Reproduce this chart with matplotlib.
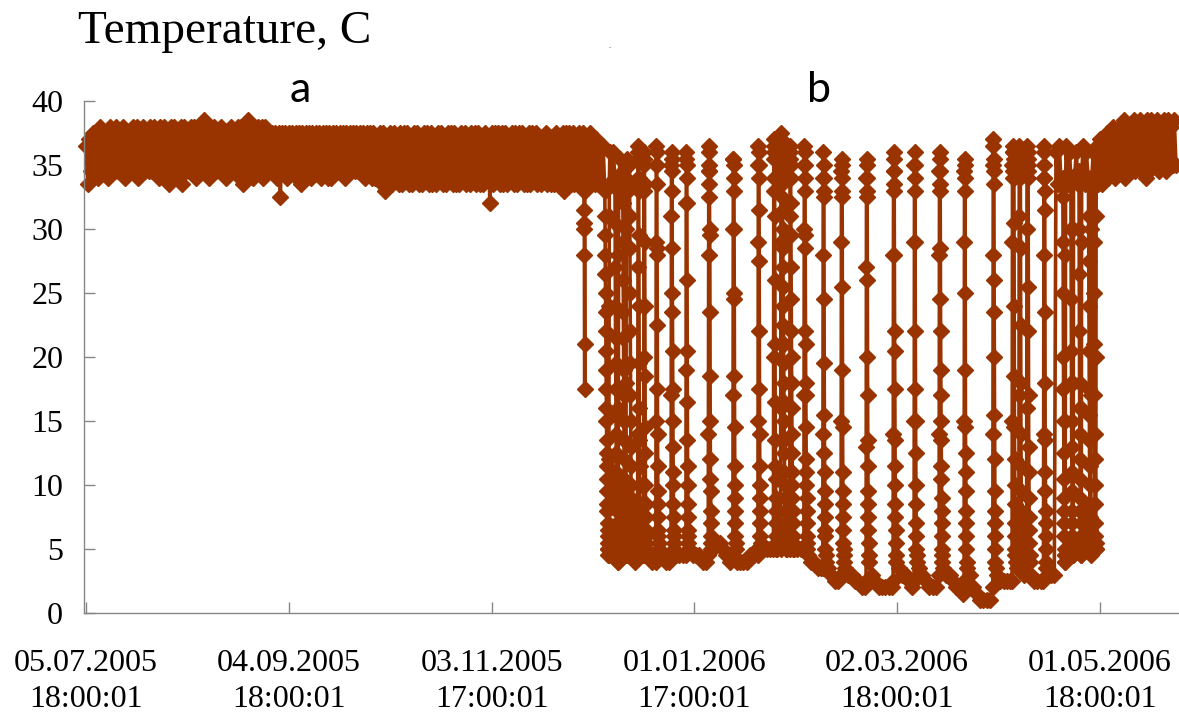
import matplotlib.pyplot as plt
import numpy as np

plt.rcParams['font.family'] = ['Liberation Serif', 'DejaVu Serif']

# day 0 = 05.07.2005 18:00:01, one high and one low reading per day
summer_start = 0
summer_hi = [
    36.5, 37, 37.5, 37.5, 38, 37.5, 37.5, 38, 37.5, 38,
    37.5, 38, 37.5, 37.5, 38, 38, 37.5, 38, 37.5, 38,
    38, 37.5, 38, 38, 37.5, 38, 38, 37.5, 38, 38,
    37.5, 38, 38, 37.5, 38, 38.5, 38, 37.5, 38, 37.5,
    38, 37.5, 37.5, 38, 37.5, 38, 38, 37.5, 38.5, 38,
    37.5, 38, 38, 38, 37.5, 37.5, 37.5, 37.5, 37.5, 37.5,
    37.5, 37.5, 37.5, 37.5, 37.5, 37.5, 37.5, 37.5, 37.5, 37.5,
    37.5, 37.5, 37.5, 37.5, 37.5, 37.5, 37.5, 37.5, 37.5, 37.5,
    37.5, 37.5, 37.5, 37.5, 37.5, 37.5, 37, 37.5, 37.5, 37,
    37.5, 37.5, 37, 37.5, 37.5, 37.5, 37, 37.5, 37.5, 37,
    37.5, 37.5, 37.5, 37, 37.5, 37.5, 37, 37.5, 37.5, 37.5,
    37, 37.5, 37.5, 37, 37.5, 37.5, 37.5, 37, 37.5, 37,
    37.5, 37.5, 37.5, 37.5, 37.5, 37, 37.5, 37.5, 37.5, 37.5,
    37, 37.5, 37.5, 37.5, 37, 37, 37.5, 37, 37, 37.5,
    37, 37.5, 37.5, 37.5, 37.5, 37, 37.5, 37.5, 37, 37.5,
    37, 37, 36.5, 36.5, 36.5, 36, 36, 36, 35.5, 35.5, 35.5,
]
summer_lo = [
    33.5, 34.5, 34.5, 34, 34.5, 34.5, 34, 34.5, 34.5, 34.5,
    34.5, 34, 34.5, 34.5, 34.5, 34, 34.5, 34.5, 34.5, 34.5,
    34.5, 34, 34.5, 34.5, 33.5, 34.5, 34, 34.5, 33.5, 34.5,
    34.5, 34.5, 34, 34.5, 34.5, 34.5, 34, 34.5, 34.5, 34.5,
    34.5, 34, 34.5, 34.5, 34.5, 34, 33.5, 34.5, 34.5, 34,
    34.5, 34.5, 34, 34.5, 34.5, 34.5, 34, 32.5, 34.5, 34,
    34.5, 34.5, 34, 33.5, 34.5, 34.5, 34, 34.5, 34.5, 34,
    34.5, 34, 34, 34.5, 34.5, 34.5, 34, 34.5, 34.5, 34.5,
    34.5, 34.5, 34, 34.5, 34, 34, 34, 33.5, 33, 33.5,
    33.5, 34, 33.5, 33.5, 34, 33.5, 33.5, 34, 33.5, 33.5,
    34, 33.5, 33.5, 33.5, 34, 33.5, 33.5, 34, 33.5, 33.5,
    33.5, 34, 33.5, 33.5, 34, 33.5, 33.5, 33.5, 34, 32,
    33.5, 34, 33.5, 33.5, 33.5, 34, 33.5, 33.5, 34, 33.5,
    33.5, 33.5, 34, 33.5, 33.5, 34, 33.5, 33.5, 33.5, 34,
    33.5, 33, 34, 33.5, 33.5, 34, 33.5, 33.5, 33.5, 33.5,
    33.5, 33.5, 33.5, 33.5, 33.5, 33.5, 33.5, 33, 33, 33, 33,
]

# hibernation: one reading per day (midday), days 161..286
winter_start = 161
winter_floor = [
    4.5, 4, 4, 4.5, 4, 4.5, 4, 4, 4.5, 4.5,
    4, 4, 4, 4.5, 4.5, 4.5, 4.5, 5, 4.5, 4.5,
    4.5, 4, 4, 4, 5, 5.5, 5.5, 5, 4.5, 4,
    4, 4, 4, 4, 4, 4.5, 4.5, 5, 5, 5,
    5, 5, 5, 5, 5, 5, 5, 5, 5, 5,
    5, 4.5, 4.5, 4, 4, 3.5, 3.5, 3, 3.5, 3,
    2.5, 2.5, 2.5, 3.5, 3, 3, 2.5, 2.5, 2, 2,
    2, 3, 2.5, 2, 2, 2, 2, 2, 2.5, 3.5,
    3, 3, 2.5, 2, 2, 3.5, 3, 2.5, 2, 2,
    2, 2, 3.5, 3, 3, 2.5, 2, 2, 1.5, 1.5,
    3, 2, 1.5, 1, 1, 1, 1, 1.5, 3, 2.5,
    2.5, 2.5, 2.5, 3, 3.5, 3.5, 3, 3, 3, 2.5,
    2.5, 2.5, 2.5, 3, 3, 3,
]

# spring: one high and one low reading per day, days 287..322
spring_start = 287
spring_hi = [
    36, 36.5, 36, 36.5, 36, 36.5, 36, 36, 36.5, 36,
    36.5, 36, 36.5, 37, 37, 37.5, 37.5, 38, 37.5, 38,
    38.5, 38, 38, 38.5, 38, 38.5, 38, 38.5, 38.5, 38,
    38.5, 38, 38.5, 38.5, 38, 38.5,
]
spring_lo = [
    33.5, 33.5, 34, 33.5, 33.5, 34, 33.5, 33.5, 33.5, 34,
    33.5, 33.5, 33.5, 33.5, 34, 34, 34.5, 34, 34.5, 34.5,
    34, 34.5, 35, 34.5, 35, 34.5, 34, 34.5, 35, 35,
    34.5, 35, 34.5, 35, 35, 35,
]

# cooling / arousal episodes, hourly readings from the start day
event_start = [
    147.3, 153.5, 156.5, 158.8, 160.8,
    163.2, 165.0, 168.6, 173.1, 177.5, 184.1, 191.4, 198.8,
    203.4, 205.5, 208.2, 212.4, 218.0, 223.4, 230.8, 238.8,
    245.0, 252.4, 259.8, 268.3, 274.0, 276.0, 278.3, 283.3,
    289.0, 291.4, 293.8, 296.6, 298.2,
]
event_temps = [
    [33, 31.5, 30.5, 30, 28, 21, 17.5, 33, 34.5],
    [33, 31, 29.5, 28, 26.5, 25, 23.5, 22, 20.5, 19, 17.5, 16, 15, 13.5, 12.5, 11.5,
     10.5, 9.5, 8.5, 8, 7, 6.5, 6, 5.5, 5, 5, 4.5, 4.5, 5, 12, 24, 31, 33.5],
    [34, 30.5, 27, 24, 21.5, 19.5, 17.5, 15.5, 14, 12.5, 11, 10, 9, 8, 7, 6.5, 6,
     5.5, 5, 4.5, 4.5, 4, 4, 4.5, 16, 28, 33],
    [34.5, 32, 29, 26, 23.5, 21.5, 19, 17, 15, 13.5, 12, 10.5, 9.5, 8.5, 7.5, 7, 6.5,
     6, 5.5, 5, 5, 4.5, 4.5, 4.5, 18, 30, 34],
    [35, 33.5, 31, 28.5, 25, 22, 19.5, 17, 15, 13, 11.5, 10, 9, 8, 7, 6.5, 6, 5.5, 5, 5, 4.5],
    [5, 14, 27, 34, 36, 36.5, 35.5, 34, 33, 29.5, 24, 19.5, 16, 13.5, 11.5, 10, 8.5, 7.5, 6.5, 6, 5.5, 5],
    [4.5, 20, 33, 35.5, 36, 35, 33.5, 29, 24, 18.5, 14.5, 12.5, 10, 8.5, 7.5, 6.5, 6, 5.5, 5],
    [4.5, 15, 29, 35, 36.5, 36, 35, 33.5, 28.5, 28, 22.5, 17.5, 14, 11.5, 9.5, 8.5, 7.5, 6.5, 6, 5.5, 5],
    [4.5, 17, 31, 35, 36, 35.5, 34.5, 33, 28.5, 25, 23.5, 20.5, 17.5, 15, 13, 11, 10, 8.5, 7.5, 6.5, 6, 5.5, 5],
    [4.5, 19, 32, 35.5, 36, 35, 34, 32, 26, 20.5, 16.5, 13.5, 11.5, 10, 8.5, 7.5, 6.5, 6, 5.5, 5],
    [4.5, 14, 28, 34.5, 36.5, 36, 35, 34.5, 33.5, 32.5, 30, 29.5, 23.5, 18.5, 15, 12, 10.5, 9.5, 8, 7, 6, 5.5, 5],
    [4.5, 17, 30, 35.5, 35.5, 35, 34, 33, 30, 25, 24.5, 18.5, 14.5, 11.5, 10, 9, 8, 7, 6, 5.5, 5],
    [4.5, 15, 29, 35, 36.5, 36, 35, 34, 31.5, 27.5, 22, 17.5, 14, 11.5, 10, 9, 8, 7, 6, 5.5, 5],
    [5, 20, 33, 36, 37, 36.5, 35.5, 34, 33, 31, 26, 21, 16.5, 13.5, 11.5, 10.5, 9, 8, 7, 6, 5.5, 5],
    [5, 16, 29, 35, 36.5, 37.5, 37, 36.5, 36, 35.5, 35, 34.5, 33.5, 32.5, 31.5, 30, 28.5, 27, 25.5,
     24, 22.5, 21, 19.5, 18, 16.5, 15, 13.5, 12.5, 11, 10, 9, 8, 7, 6.5, 6, 5.5, 5],
    [5, 18, 31, 35.5, 36.5, 36, 35, 34, 32, 29.5, 27, 24.5, 22, 20, 18, 16, 14, 12.5, 11, 10, 9, 8, 7, 6, 5.5, 5],
    [5, 17, 30, 35, 36.5, 36, 35, 34, 33, 29.5, 28.5, 22, 21, 18, 17, 14.5, 12, 11, 10, 9, 8, 7, 6, 5.5, 5],
    [3.5, 14, 28, 34, 36, 35, 34, 33, 32.5, 24.5, 19.5, 15.5, 12.5, 11, 9.5, 8.5, 7.5, 6.5, 6, 5, 4.5, 4],
    [3, 15, 29, 34.5, 35.5, 35, 34, 33, 32.5, 25.5, 19, 14.5, 11, 9.5, 8.5, 7.5, 6.5, 5.5, 5, 4.5, 4],
    [2.5, 13, 27, 34, 35.5, 35, 34, 33, 32.5, 26, 20, 17, 13.5, 11.5, 9.5, 8.5, 7.5, 6.5, 5.5, 4.5, 4],
    [2.5, 14, 28, 34.5, 36, 35.5, 34.5, 33.5, 33, 28, 22, 20.5, 17.5, 13.5, 11.5, 10, 8.5, 7.5, 6.5, 5.5, 4.5, 4],
    [2.5, 15, 29, 35, 36, 35, 34, 33, 29, 22, 17.5, 15, 12.5, 10, 8.5, 7, 6, 5, 4.5, 4],
    [3, 14, 28, 34.5, 36, 35.5, 34.5, 33.5, 33, 28.5, 24.5, 22, 19, 17, 15, 13.5, 11.5, 10.5, 9, 8, 7, 6, 5, 4.5, 4],
    [2.5, 15, 29, 34.5, 35.5, 35, 34, 33, 25, 19, 14.5, 12.5, 11, 9.5, 8, 7, 6, 5, 4, 3.5],
    [2, 14, 28, 35, 37, 36.5, 35.5, 34.5, 33.5, 26, 23.5, 20, 15.5, 12, 9.5, 8, 7, 6, 5, 4, 3.5],
    [2.5, 15, 29, 35, 36.5, 36, 35, 34.5, 34, 35, 36, 35.5, 34.5, 34, 30.5, 24, 18.5, 14.5, 12, 10, 8.5, 7, 6, 5, 4.5, 4],
    [4, 17, 31, 35.5, 36.5, 36, 35.5, 34.5, 35, 36, 35, 34, 28.5, 22.5, 18, 14, 11.5, 9.5, 8, 7, 6, 5, 4.5],
    [4, 16, 30, 35, 36.5, 36, 35, 34.5, 35.5, 36, 35, 34, 25.5, 22, 17, 13, 11, 9, 7.5, 6.5, 5.5, 4.5, 4],
    [2.5, 14, 28, 34, 36.5, 36, 35, 34, 33, 31.5, 23.5, 18, 13.5, 11, 9.5, 8, 7, 6, 5, 4, 3.5],
    [34, 32.5, 29, 25, 20, 17.5, 15, 12.5, 10.5, 9, 8, 7, 6, 5, 4.5, 4, 4, 4.5, 15, 28, 33.5],
    [34, 30, 24.5, 20.5, 18, 15, 13, 11, 9.5, 8, 7, 6, 5.5, 5, 4.5, 4.5, 5, 18, 30, 34],
    [34.5, 30, 26.5, 22, 18, 16, 14, 12, 10.5, 9, 8, 7, 6, 5, 4.5, 4.5, 5, 16, 29, 34],
    [34, 31, 27.5, 24, 20.5, 17.5, 15.5, 13.5, 11.5, 10, 8.5, 7.5, 6.5, 5.5, 5, 5, 4.5, 5, 17, 30, 34],
    [33.5, 29, 25, 21, 17, 14, 12, 10, 8.5, 7, 6, 5.5, 5, 5, 5.5, 20, 31, 34],
]

tick_days = [0, 60, 120, 180, 240, 300]
tick_labels = ['05.07.2005\n18:00:01', '04.09.2005\n18:00:01', '03.11.2005\n17:00:01',
               '01.01.2006\n17:00:01', '02.03.2006\n18:00:01', '01.05.2006\n18:00:01']


def buildSeries():
    t, v = [], []
    for i, (hi, lo) in enumerate(zip(summer_hi, summer_lo)):
        t += [summer_start + i, summer_start + i + 0.5]
        v += [hi, lo]
    for i, f in enumerate(winter_floor):
        t.append(winter_start + i + 0.5)
        v.append(f)
    for i, (hi, lo) in enumerate(zip(spring_hi, spring_lo)):
        t += [spring_start + i, spring_start + i + 0.5]
        v += [hi, lo]
    t = np.array(t, float)
    v = np.array(v, float)

    keep = np.ones(len(t), bool)
    et, ev = [], []
    for s, temps in zip(event_start, event_temps):
        times = s + np.arange(len(temps)) / 24
        keep &= ~((t >= times[0]) & (t <= times[-1]))
        et.append(times)
        ev.append(np.array(temps, float))
    t = np.concatenate([t[keep]] + et)
    v = np.concatenate([v[keep]] + ev)
    order = np.argsort(t, kind='stable')
    return t[order], v[order]


def plotFig(t, v):
    W, H = 1179, 716
    fig = plt.figure(figsize=(W / 100, H / 100), dpi=100)
    ax = fig.add_axes([84 / W, 1 - 613 / H, 1094 / W, 512 / H])

    col = '#993300'
    ax.plot(t, v, color=col, lw=2.6, marker='D', ms=8, mew=1,
            mfc=col, mec=col, clip_on=False)

    ax.set_xlim(-0.6, 323.1)
    ax.set_ylim(0, 40)
    ax.set_yticks(range(0, 41, 5))
    ax.set_xticks(tick_days)
    ax.set_xticklabels(tick_labels, linespacing=1.3)

    for s in ['top', 'right']:
        ax.spines[s].set_visible(False)
    for s in ['left', 'bottom']:
        ax.spines[s].set_color('#868686')
        ax.spines[s].set_linewidth(1.0)
    ax.tick_params(axis='both', direction='in', length=8, width=1,
                   color='#868686', labelsize=23, labelcolor='black')
    ax.tick_params(axis='y', pad=15)
    ax.tick_params(axis='x', pad=26)

    fig.text(78 / W, 1 - 43 / H, 'Temperature, C', fontsize=34,
             ha='left', va='baseline')
    fig.text(300 / W, 1 - 102 / H, 'a', fontsize=31, family=['Lato', 'DejaVu Sans'],
             ha='center', va='baseline')
    fig.text(819 / W, 1 - 102 / H, 'b', fontsize=31, family=['Lato', 'DejaVu Sans'],
             ha='center', va='baseline')
    fig.text(610 / W, 1 - 48 / H, '.', fontsize=6, color='#444444',
             ha='center', va='baseline')

    fig.savefig('out.png', dpi=100)
    plt.close(fig)


def main():
    t, v = buildSeries()
    plotFig(t, v)


if __name__ == '__main__':
    main()
